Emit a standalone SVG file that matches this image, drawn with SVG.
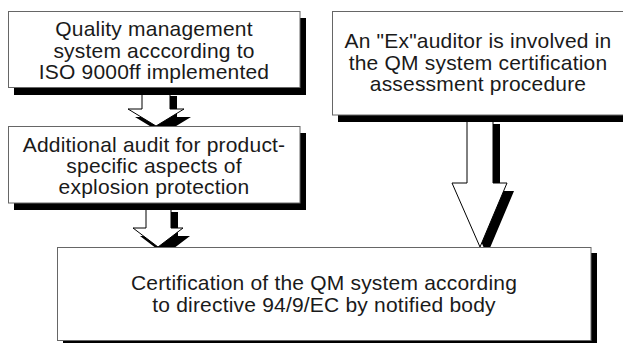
<svg xmlns="http://www.w3.org/2000/svg" width="623" height="343" viewBox="0 0 623 343">
<style>
.sh{fill:#000}
.bx{fill:#fff;stroke:#666;stroke-width:1}
.ar{fill:#fff;stroke:#000;stroke-width:1;stroke-linejoin:miter}
.ash{fill:#000}
text{font-family:"Liberation Sans",Arial,Helvetica,sans-serif;font-size:21px;letter-spacing:0.2px;fill:#1a1a1a;text-anchor:middle}
</style>
<rect width="623" height="343" fill="#fff"/>
<g id="connectors">
  <g id="arrow1">
    <polygon class="ash" transform="translate(7,8)" points="142,88 170,88 170,109 184,109 156,126 128,109 142,109"/>
    <polygon class="ar" points="142,88 170,88 170,109 184,109 156,126 128,109 142,109"/>
  </g>
  <g id="arrow2">
    <polygon class="ash" transform="translate(7,8)" points="146,204 171,204 171,228 183,228 158,247 133,228 146,228"/>
    <polygon class="ar" points="146,204 171,204 171,228 183,228 158,247 133,228 146,228"/>
  </g>
  <g id="arrow3">
    <polygon class="ash" transform="translate(7,8)" points="467,116 493,116 493,183 507,183 480,247 452,183 467,183"/>
    <polygon class="ar" points="467,116 493,116 493,183 507,183 480,247 452,183 467,183"/>
  </g>
</g>
<g id="node-qms">
  <rect class="sh" x="14" y="18" width="292" height="77"/>
  <rect class="bx" x="8.5" y="11.5" width="291.5" height="76"/>
  <text x="154" y="36">Quality management</text>
  <text x="154" y="57.5">system acccording to</text>
  <text x="154" y="79">ISO 9000ff implemented</text>
</g>
<g id="node-audit">
  <rect class="sh" x="14" y="133" width="292" height="77"/>
  <rect class="bx" x="8.5" y="126.5" width="291.5" height="76.5"/>
  <text x="154" y="152">Additional audit for product-</text>
  <text x="154" y="173">specific aspects of</text>
  <text x="154" y="194">explosion protection</text>
</g>
<g id="node-ex">
  <rect class="sh" x="338" y="18" width="300" height="104"/>
  <rect class="bx" x="332.5" y="11.5" width="300" height="103.5"/>
  <text x="478" y="48">An "Ex"auditor is involved in</text>
  <text x="478" y="69.5">the QM system certification</text>
  <text x="478" y="91">assessment procedure</text>
</g>
<g id="node-cert">
  <rect class="sh" x="63" y="253" width="534" height="100"/>
  <rect class="bx" x="57.5" y="247.5" width="533.5" height="93"/>
  <text x="324" y="290">Certification of the QM system according</text>
  <text x="324" y="312">to directive 94/9/EC by notified body</text>
</g>
</svg>
